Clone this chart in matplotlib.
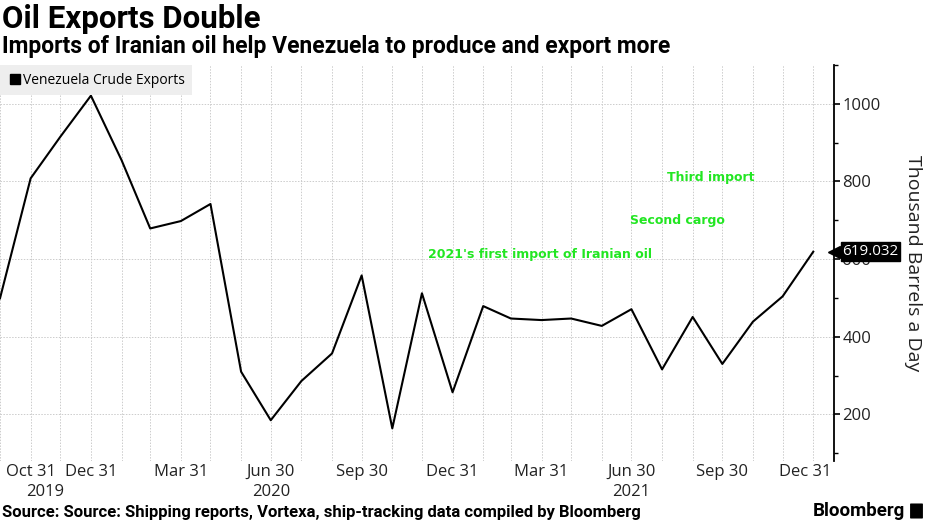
import numpy as np
import pandas as pd
import matplotlib
matplotlib.use("Agg")
import matplotlib.pyplot as plt
import matplotlib.transforms as mtransforms
from matplotlib.lines import Line2D
from matplotlib.patches import FancyBboxPatch

# monthly Venezuela crude exports, thousand barrels a day
dates = pd.date_range("2019-09-30", periods=28, freq="ME")
exports = [499, 808, 915, 1021, 855, 679, 698, 742, 310, 185, 286, 357, 558, 164,
           512, 257, 479, 447, 443, 447, 428, 471, 316, 451, 330, 439, 504, 619.032]

tick_dates = pd.to_datetime(["2019-10-31", "2019-12-31", "2020-03-31", "2020-06-30",
                             "2020-09-30", "2020-12-31", "2021-03-31", "2021-06-30",
                             "2021-09-30", "2021-12-31"])
tick_labels = ["Oct 31", "Dec 31", "Mar 31", "Jun 30", "Sep 30", "Dec 31",
               "Mar 31", "Jun 30", "Sep 30", "Dec 31"]
year_labels = ["2019", "2020", "2021"]
year_pos = pd.to_datetime(["2019-11-15", "2020-06-30", "2021-06-30"])

notes = ["2021's first import of Iranian oil", "Second cargo", "Third import"]
note_pos = pd.to_datetime(["2020-12-06", "2021-06-29", "2021-08-05"])
note_val = [613, 700, 809]

head = ["Roboto", "DejaVu Sans"]
body = ["Open Sans", "DejaVu Sans"]
green = "#22e622"

fig = plt.figure(figsize=(9.3, 5.23), dpi=100)
ax = fig.add_axes([0.0, 1 - 461 / 523, 834 / 930, (461 - 65) / 523])

ax.plot(dates, exports, color="black", lw=1.5, zorder=3)

ax.set_xlim(pd.Timestamp("2019-09-30"), pd.Timestamp("2022-01-21"))
ax.set_ylim(80, 1100)

# right-hand axis
for s in ["top", "left", "bottom"]:
    ax.spines[s].set_visible(False)
ax.spines["right"].set_linewidth(1.3)
ax.yaxis.tick_right()
ax.set_yticks([200, 400, 600, 800, 1000])
ax.set_yticks([100, 300, 500, 700, 900, 1100], minor=True)
ax.tick_params(axis="y", which="major", length=4, width=1.2, labelsize=12, pad=2,
               labelcolor="#222222")
ax.tick_params(axis="y", which="minor", length=3, width=1)
ax.yaxis.set_label_position("right")
ax.set_ylabel("Thousand Barrels a Day", rotation=270, fontsize=14, labelpad=30,
              color="#222222", family=body)
for lab in ax.get_yticklabels():
    lab.set_family(body)

ax.set_xticks(tick_dates)
ax.set_xticklabels(tick_labels, family=body)
ax.set_xticks(dates, minor=True)
ax.tick_params(axis="x", which="both", length=0, labelsize=12, pad=2,
               labelcolor="#222222")
# last label sits a bit to the left so it does not cross the spine
last = ax.get_xticklabels()[-1]
last.set_transform(last.get_transform() + mtransforms.ScaledTranslation(-8 / 100, 0, fig.dpi_scale_trans))

ax.grid(True, which="both", axis="x", color="#cccccc", lw=0.7, ls=(0, (1.5, 1.5)))
ax.grid(True, which="major", axis="y", color="#cccccc", lw=0.7, ls=(0, (1.5, 1.5)))

ytrans = mtransforms.blended_transform_factory(ax.transData, ax.transAxes)
for lab, pos in zip(year_labels, year_pos):
    ax.text(pos, -0.078, lab, transform=ytrans, ha="center", va="center",
            fontsize=12, color="#222222", family=body)

for txt, pos, val in zip(notes, note_pos, note_val):
    ax.text(pos, val, txt, ha="left", va="center", fontsize=9,
            fontweight="bold", color=green)

# last value tag on the axis
vtrans = mtransforms.blended_transform_factory(ax.transAxes, ax.transData)
ax.annotate(f"{exports[-1]:.3f}", xy=(1.0, exports[-1]), xycoords=vtrans,
            xytext=(6, 0), textcoords="offset points", ha="left", va="center",
            fontsize=11, color="white", zorder=10, annotation_clip=False, family=body,
            bbox=dict(boxstyle="square,pad=0.12", fc="black", ec="black"))
ax.plot([1.0], [exports[-1]], transform=vtrans, marker="<", ms=9, color="black",
        clip_on=False, zorder=9)

leg = ax.legend([Line2D([], [], marker="s", ls="none", color="black", markersize=6.5)],
                ["Venezuela Crude Exports"], loc="upper left", bbox_to_anchor=(0, 1),
                borderaxespad=0, frameon=True, fancybox=False, handletextpad=0.1,
                handlelength=1.0, borderpad=0.55, prop={"family": body, "size": 10})
leg.get_frame().set_facecolor("#eeeeee")
leg.get_frame().set_edgecolor("none")
leg.get_frame().set_alpha(1)

fig.text(0.002, 1 - 19 / 523, "Oil Exports Double", fontsize=22.5, fontweight="bold",
         family=head, va="center", ha="left")
fig.text(0.002, 1 - 47 / 523, "Imports of Iranian oil help Venezuela to produce and export more",
         fontsize=16.5, fontweight="bold", family=head, va="center", ha="left")
fig.text(0.002, 1 - 512 / 523,
         "Source: Source: Shipping reports, Vortexa, ship-tracking data compiled by Bloomberg",
         fontsize=12, fontweight="bold", family=head, va="center", ha="left")
fig.text(905 / 930, 1 - 511 / 523, "Bloomberg", fontsize=13.5, fontweight="bold",
         family=head, va="center", ha="right")
fig.patches.append(FancyBboxPatch((911 / 930, 1 - 518 / 523), 11 / 930, 14 / 523,
                                  boxstyle="round,pad=0.001", fc="black", ec="none",
                                  transform=fig.transFigure, figure=fig))

fig.savefig("out.png", dpi=100)
plt.close(fig)
